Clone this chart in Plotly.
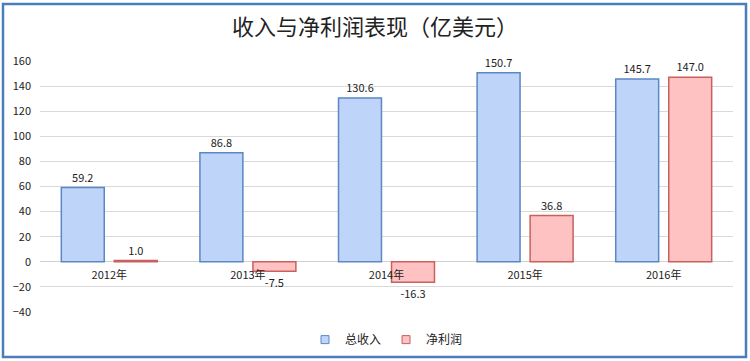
import plotly.graph_objects as go

categories = ["2012年", "2013年", "2014年", "2015年", "2016年"]
revenue = [59.2, 86.8, 130.6, 150.7, 145.7]
net_profit = [1.0, -7.5, -16.3, 36.8, 147.0]
series_names = ["总收入", "净利润"]
title_text = "收入与净利润表现（亿美元）"
y_ticks = [-40, -20, 0, 20, 40, 60, 80, 100, 120, 140, 160]

font_family = "Noto Sans CJK SC, Noto Sans, sans-serif"
fill_colors = ["#BFD4F9", "#FFC2C2"]
line_colors = ["#5B87C5", "#C9605D"]

fig = go.Figure()
for name, vals, fc, lc in zip(series_names, [revenue, net_profit], fill_colors, line_colors):
    fig.add_trace(go.Bar(
        name=name, x=categories, y=vals, showlegend=False,
        marker=dict(color=fc, line=dict(color=lc, width=1.5)),
        text=[f"{v:.1f}" for v in vals], textposition="outside",
        textfont=dict(size=11, color="#222"), cliponaxis=False,
    ))
# compact square legend entries
for name, fc, lc in zip(series_names, fill_colors, line_colors):
    fig.add_trace(go.Scatter(
        name=name, x=[None], y=[None], mode="markers",
        marker=dict(symbol="square", size=8, color=fc, line=dict(color=lc, width=1)),
        showlegend=True,
    ))

ymin, ymax = -40, 160
fig.update_layout(
    width=750, height=361,
    margin=dict(l=40, r=17, t=61, b=49, autoexpand=False),
    paper_bgcolor="white", plot_bgcolor="white",
    font=dict(family=font_family, color="#222"),
    title=dict(text=title_text, x=0.5, xanchor="center", y=0.925, yanchor="middle",
               font=dict(size=22, color="#222", family=font_family)),
    barmode="group", bargap=0.235, bargroupgap=0.19,
    showlegend=True,
    legend=dict(orientation="h", x=0.5, xanchor="center", y=-0.11, yanchor="middle",
                font=dict(size=12, color="#222"), traceorder="normal"),
    xaxis=dict(anchor="free", position=(0 - ymin) / (ymax - ymin), showgrid=False,
               showline=False, ticks="", tickfont=dict(size=11, color="#222"),
               ticklabelstandoff=5, automargin=False),
    yaxis=dict(range=[ymin, ymax], tickvals=y_ticks, showgrid=True, gridcolor="#D9D9D9",
               gridwidth=1, zeroline=True, zerolinecolor="#D0D0D0", zerolinewidth=1,
               tickfont=dict(size=11, color="#222"), ticklabelstandoff=8, automargin=False),
)

# outer chart border
pw, ph = 693, 251
fig.add_shape(type="rect", xref="paper", yref="paper",
              x0=(3 - 40) / pw, x1=(746 - 40) / pw, y0=(312 - 357) / ph, y1=(312 - 4) / ph,
              line=dict(color="#4A7EBB", width=2.5), fillcolor="rgba(0,0,0,0)", layer="above")

fig.write_html("out.html", config={"displayModeBar": False},
               post_script="document.body.style.margin='0';document.body.style.padding='0';")
